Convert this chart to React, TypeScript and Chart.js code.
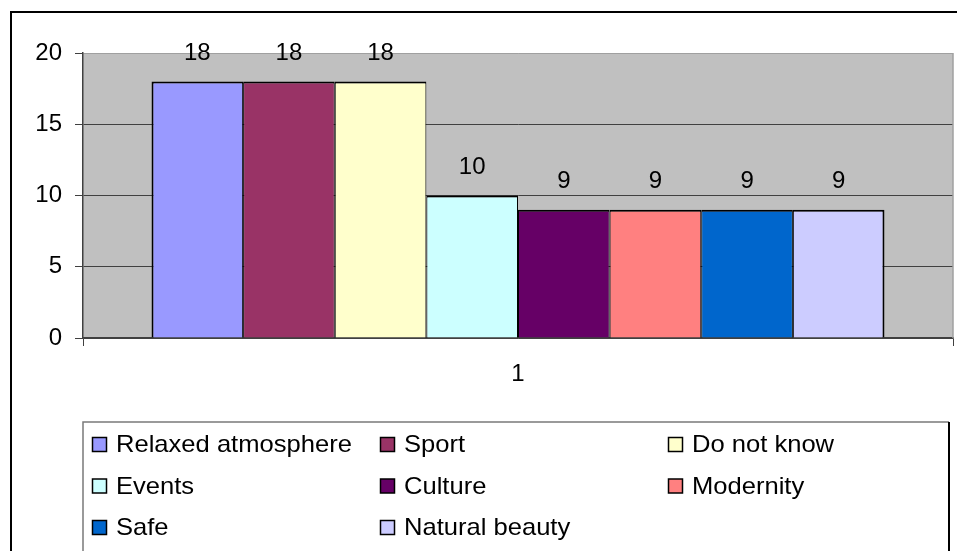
import React, { useEffect, useRef } from "react";
import { Chart, registerables } from "chart.js";

Chart.register(...registerables);

const categories = ["1"];
const seriesNames = [
  "Relaxed atmosphere",
  "Sport",
  "Do not know",
  "Events",
  "Culture",
  "Modernity",
  "Safe",
  "Natural beauty",
];
const seriesValues = [18, 18, 18, 10, 9, 9, 9, 9];
const seriesColors = [
  "#9999FF",
  "#993366",
  "#FFFFCC",
  "#CCFFFF",
  "#660066",
  "#FF8080",
  "#0066CC",
  "#CCCCFF",
];
const yTicks = [0, 5, 10, 15, 20];

const FONT = "Liberation Sans, Arial, sans-serif";
const FS = 24;

const decorPlugin = {
  id: "decor",
  beforeDraw(chart: any) {
    const { ctx, chartArea: a } = chart;
    ctx.save();
    ctx.fillStyle = "#ffffff";
    ctx.fillRect(0, 0, chart.width, chart.height);
    // outer chart border
    ctx.strokeStyle = "#000000";
    ctx.lineWidth = 2;
    ctx.strokeRect(11, 12, 2000, 2000);
    // plot area background
    ctx.fillStyle = "#C0C0C0";
    ctx.fillRect(a.left, a.top, a.right - a.left, a.bottom - a.top);
    ctx.restore();
  },
  beforeDatasetsDraw(chart: any) {
    const { ctx, chartArea: a } = chart;
    ctx.save();
    ctx.strokeStyle = "#a0a0a0";
    ctx.lineWidth = 1.5;
    ctx.beginPath();
    ctx.moveTo(a.right, a.top);
    ctx.lineTo(a.right, a.bottom);
    ctx.stroke();
    ctx.restore();
  },
  afterDraw(chart: any) {
    const { ctx } = chart;
    ctx.save();
    // data labels
    ctx.fillStyle = "#000000";
    ctx.font = `${FS}px ${FONT}`;
    ctx.textAlign = "center";
    ctx.textBaseline = "middle";
    chart.data.datasets.forEach((ds: any, i: number) => {
      const meta = chart.getDatasetMeta(i);
      meta.data.forEach((el: any, j: number) => {
        ctx.fillText(String(ds.data[j]), el.x, el.y - 28);
      });
    });
    // legend box
    const lx = 83,
      ly = 422,
      rx = 949;
    ctx.lineWidth = 1.5;
    ctx.strokeStyle = "#7a7a7a";
    ctx.beginPath();
    ctx.moveTo(lx, 700);
    ctx.lineTo(lx, ly);
    ctx.lineTo(rx, ly);
    ctx.stroke();
    ctx.strokeStyle = "#000000";
    ctx.lineWidth = 2;
    ctx.beginPath();
    ctx.moveTo(rx, ly);
    ctx.lineTo(rx, 700);
    ctx.stroke();
    // legend items
    ctx.textAlign = "left";
    ctx.textBaseline = "alphabetic";
    chart.data.datasets.forEach((ds: any, i: number) => {
      const row = Math.floor(i / 3);
      const col = i % 3;
      const base = 452 + row * 41.5;
      const mx = 92.5 + col * 288;
      const my = base - 14.5;
      ctx.fillStyle = ds.backgroundColor;
      ctx.fillRect(mx, my, 14, 14);
      ctx.strokeStyle = "#000000";
      ctx.lineWidth = 1.5;
      ctx.strokeRect(mx, my, 14, 14);
      ctx.fillStyle = "#000000";
      ctx.save();
      ctx.translate(116 + col * 288, base);
      ctx.scale(1.065, 1);
      ctx.fillText(ds.label, 0, 0);
      ctx.restore();
    });
    ctx.restore();
  },
};

export default function App() {
  const ref = useRef<HTMLCanvasElement | null>(null);
  useEffect(() => {
    document.body.style.margin = "0";
    const canvas = ref.current!;
    const n = seriesNames.length;
    const chart = new Chart(canvas, {
      type: "bar",
      data: {
        labels: categories,
        datasets: seriesNames.map((name, i) => ({
          label: name,
          data: [seriesValues[i]],
          backgroundColor: seriesColors[i],
          borderColor: "#000000",
          borderWidth: {
            top: 2,
            bottom: 0,
            left: i === 0 ? 2 : 1,
            right: i === n - 1 ? 2 : 1,
          },
          borderSkipped: false,
          categoryPercentage: 0.8425,
          barPercentage: 1,
        })),
      },
      options: {
        responsive: false,
        animation: false,
        devicePixelRatio: 1,
        layout: { padding: { top: 53, right: 4, left: 0, bottom: 0 } },
        plugins: {
          legend: { display: false },
          tooltip: { enabled: false },
          title: { display: false },
        },
        scales: {
          x: {
            type: "category",
            offset: true,
            grid: {
              offset: true,
              drawOnChartArea: false,
              drawTicks: true,
              tickLength: 8,
              tickColor: "#404040",
              color: "#404040",
            },
            border: { display: true, color: "#404040", width: 1.5 },
            ticks: {
              color: "#000000",
              font: { family: FONT, size: FS },
              padding: 14,
            },
            afterFit(scale: any) {
              scale.height = 213;
            },
          },
          y: {
            min: 0,
            max: 20,
            afterBuildTicks(scale: any) {
              scale.ticks = yTicks.map((v) => ({ value: v }));
            },
            grid: {
              color: (c: any) => (c.tick && c.tick.value === 20 ? "#a0a0a0" : "#404040"),
              lineWidth: 1,
              tickLength: 8,
              tickColor: "#404040",
            },
            border: { display: true, color: "#404040", width: 1.5 },
            ticks: {
              color: "#000000",
              font: { family: FONT, size: FS },
              padding: 13,
            },
            afterFit(scale: any) {
              scale.width = 83;
            },
          },
        },
      },
      plugins: [decorPlugin],
    } as any);
    return () => chart.destroy();
  }, []);
  return (
    <div style={{ width: 957, height: 551 }}>
      <canvas ref={ref} width={957} height={551} style={{ display: "block", width: 957, height: 551 }} />
    </div>
  );
}
